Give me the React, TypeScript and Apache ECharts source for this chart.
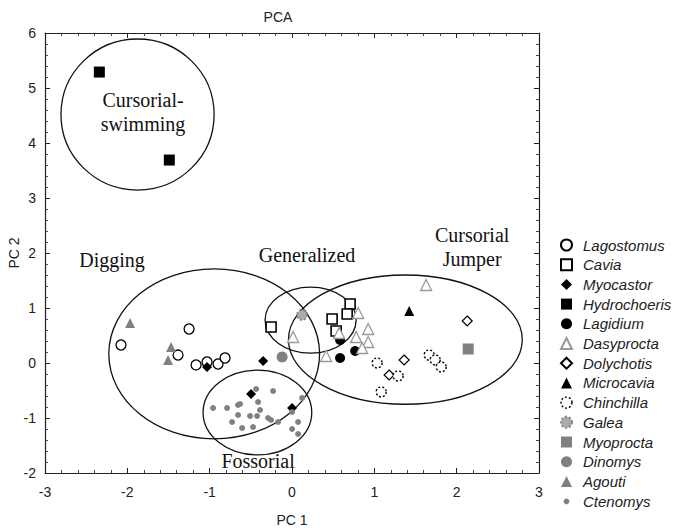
import React, { useEffect, useRef } from 'react';
import * as echarts from 'echarts';

// ---- data (PC1, PC2) ----
const lagostomus = [[-2.077, 0.327], [-1.25, 0.618], [-1.384, 0.145], [-1.165, -0.036], [-1.032, 0.018], [-0.898, -0.018], [-0.813, 0.091]];
const cavia = [[0.706, 1.073], [0.67, 0.891], [0.487, 0.8], [0.536, 0.582], [-0.254, 0.655]];
const myocastor = [[-1.032, -0.073], [-0.351, 0.036], [-0.497, -0.564], [0.001, -0.818]];
const hydrochoeris = [[-2.34, 5.29], [-1.49, 3.69]];
const lagidium = [[0.584, 0.418], [0.584, 0.091], [0.767, 0.218]];
const dasyprocta = [[0.803, 0.909], [0.013, 0.473], [0.572, 0.545], [0.925, 0.618], [0.925, 0.382], [0.779, 0.473], [0.852, 0.273], [0.414, 0.127], [1.629, 1.418]];
const dolychotis = [[2.128, 0.764], [1.362, 0.055], [1.18, -0.218]];
const microcavia = [[1.423, 0.945]];
const chinchilla = [[1.034, 0.0], [1.289, -0.236], [1.083, -0.527], [1.666, 0.145], [1.739, 0.055], [1.812, -0.073]];
const galea = [[0.123, 0.873]];
const myoprocta = [[2.14, 0.255]];
const dinomys = [[-0.12, 0.11]];
const agouti = [[-1.967, 0.727], [-1.469, 0.291], [-1.505, 0.055]];
const ctenomys = [[-0.959, -0.818], [-0.789, -0.818], [-0.655, -0.764], [-0.631, -0.745], [-0.655, -0.945], [-0.728, -1.073], [-0.606, -1.182], [-0.473, -1.164], [-0.509, -0.964], [-0.424, -0.964], [-0.388, -0.855], [-0.412, -0.709], [-0.436, -0.473], [-0.23, -0.509], [-0.29, -1.0], [-0.254, -1.036], [-0.169, -1.073], [0.001, -0.891], [0.074, -1.073], [0.001, -1.2], [0.074, -1.291], [0.123, -0.636]];

// group ellipses: [centerX, centerY, radiusX, radiusY] in data units
const groupEllipses = [[-1.876, 4.518, 0.93, 1.373], [-0.945, 0.165, 1.28, 1.545], [0.226, 0.78, 0.553, 0.6], [1.377, 0.425, 1.42, 1.175], [-0.42, -0.9, 0.66, 0.77]];
const groupLabels = ['Cursorial-\nswimming', 'Digging', 'Generalized', 'Cursorial\nJumper', 'Fossorial'];
const groupLabelPos = [[-1.809, 4.56], [-2.186, 1.873], [0.183, 1.96], [2.188, 2.118], [-0.412, -1.78]];

const xTicks = { min: -3, max: 3, interval: 1 };
const yTicks = { min: -2, max: 6, interval: 1 };

const GRAY = '#808080';
const open = (c: string, extra: any = {}) => ({ color: '#fff', borderColor: c, borderWidth: 1.3, ...extra });
// small dot icon for the legend (corner move-tos keep the bounding box at 10x10)
const SMALL_DOT = 'path://M0,0M10,10M7.6,5A2.6,2.6,0,1,1,7.59,4.9Z';

const chinchillaStyle = open('#000', { borderType: [2, 2], borderWidth: 1.4 });
const galeaStyle = { color: '#aaa', borderColor: '#888', borderWidth: 2, borderType: [2, 2] };

const speciesDefs: any[] = [
  { name: 'Lagostomus', data: lagostomus, symbol: 'circle', size: 10, itemStyle: open('#000') },
  { name: 'Cavia', data: cavia, symbol: 'rect', size: 10, itemStyle: open('#000', { borderWidth: 1.6 }) },
  { name: 'Myocastor', data: myocastor, symbol: 'diamond', size: 10, itemStyle: { color: '#000' } },
  { name: 'Hydrochoeris', data: hydrochoeris, symbol: 'rect', size: 11, itemStyle: { color: '#000' } },
  { name: 'Lagidium', data: lagidium, symbol: 'circle', size: 10, itemStyle: { color: '#000' } },
  { name: 'Dasyprocta', data: dasyprocta, symbol: 'triangle', size: 11, itemStyle: open('#999') },
  { name: 'Dolychotis', data: dolychotis, symbol: 'diamond', size: 10, itemStyle: open('#000', { borderWidth: 1.2 }) },
  { name: 'Microcavia', data: microcavia, symbol: 'triangle', size: 10, itemStyle: { color: '#000' } },
  { name: 'Chinchilla', data: chinchilla, symbol: 'circle', size: 10, itemStyle: chinchillaStyle, legendStyle: chinchillaStyle },
  { name: 'Galea', data: galea, symbol: 'circle', size: 10, itemStyle: galeaStyle, legendStyle: galeaStyle },
  { name: 'Myoprocta', data: myoprocta, symbol: 'rect', size: 11, itemStyle: { color: GRAY } },
  { name: 'Dinomys', data: dinomys, symbol: 'circle', size: 11, itemStyle: { color: GRAY } },
  { name: 'Agouti', data: agouti, symbol: 'triangle', size: 10, itemStyle: { color: GRAY } },
  { name: 'Ctenomys', data: ctenomys, symbol: 'circle', size: 6, itemStyle: { color: GRAY }, legendIcon: SMALL_DOT },
];

const SANS = 'Liberation Sans, Arial, sans-serif';
const SERIF = 'Liberation Serif, Times New Roman, serif';

export default function App() {
  const ref = useRef<HTMLDivElement>(null);
  useEffect(() => {
    if (!ref.current) return;
    const chart = echarts.init(ref.current, undefined, { renderer: 'svg' });
    const axisCommon = {
      axisLine: { show: true, onZero: false, lineStyle: { color: '#222', width: 1.2 } },
      axisTick: { show: true, inside: true, length: 5, lineStyle: { color: '#222' } },
      minorTick: { show: true, splitNumber: 5, length: 3, lineStyle: { color: '#444' } },
      splitLine: { show: false },
    };
    const option: any = {
      animation: false,
      backgroundColor: '#fff',
      title: {
        text: 'PCA', left: 273, top: 5, textAlign: 'center',
        textStyle: { fontFamily: SANS, fontSize: 14, fontWeight: 'normal', color: '#222' },
      },
      grid: { left: 45, right: 135, top: 33, bottom: 58, outerBoundsMode: 'none', containLabel: false },
      xAxis: [
        {
          type: 'value', position: 'bottom', ...xTicks, ...axisCommon,
          name: 'PC 1', nameLocation: 'middle', nameGap: 40, nameMoveOverlap: false,
          nameTextStyle: { fontFamily: SANS, fontSize: 14, color: '#222' },
          axisLabel: { fontFamily: SANS, fontSize: 14, color: '#222', margin: 12 },
        },
        { type: 'value', position: 'top', ...xTicks, ...axisCommon, axisLabel: { show: false } },
      ],
      yAxis: [
        {
          type: 'value', position: 'left', ...yTicks, ...axisCommon,
          name: 'PC 2', nameLocation: 'middle', nameGap: 24, nameMoveOverlap: false,
          nameTextStyle: { fontFamily: SANS, fontSize: 14, color: '#222' },
          axisLabel: { fontFamily: SANS, fontSize: 14, color: '#222', margin: 9 },
        },
        { type: 'value', position: 'right', ...yTicks, ...axisCommon, axisLabel: { show: false } },
      ],
      legend: {
        orient: 'vertical', left: 555, top: 232.5, height: 300,
        itemWidth: 11, itemHeight: 11, itemGap: 4.7,
        symbolKeepAspect: true,
        data: speciesDefs.map((s) => {
          const d: any = { name: s.name };
          if (s.legendIcon) d.icon = s.legendIcon;
          if (s.legendStyle) d.itemStyle = s.legendStyle;
          return d;
        }),
        textStyle: { fontFamily: SANS, fontSize: 15, fontStyle: 'italic', color: '#222', padding: [0, 0, 0, 6] },
        selectedMode: false,
      },
      series: [
        {
          type: 'custom', name: 'groups', silent: true, z: 1,
          data: groupEllipses,
          renderItem: (params: any, api: any) => {
            const c = api.coord([api.value(0), api.value(1)]);
            const s = api.size([api.value(2), api.value(3)]);
            return {
              type: 'ellipse',
              shape: { cx: c[0], cy: c[1], rx: s[0], ry: s[1] },
              style: { fill: 'none', stroke: '#111', lineWidth: 1.3 },
            };
          },
        },
        ...speciesDefs.map((s) => ({
          type: 'scatter', name: s.name, data: s.data, symbol: s.symbol, symbolSize: s.size,
          itemStyle: { opacity: 1, ...s.itemStyle }, z: 3,
        })),
        {
          type: 'custom', name: 'groupLabels', silent: true, z: 5,
          data: groupLabelPos,
          renderItem: (params: any, api: any) => {
            const c = api.coord([api.value(0), api.value(1)]);
            return {
              type: 'text', x: c[0], y: c[1],
              style: {
                text: groupLabels[params.dataIndex], fontFamily: SERIF, fontSize: 20,
                lineHeight: 24, fill: '#111', align: 'center', verticalAlign: 'middle',
              },
            };
          },
        },
      ],
    };
    chart.setOption(option);
    return () => chart.dispose();
  }, []);
  return <div ref={ref} style={{ position: 'fixed', left: 0, top: 0, width: 674, height: 531 }} />;
}
